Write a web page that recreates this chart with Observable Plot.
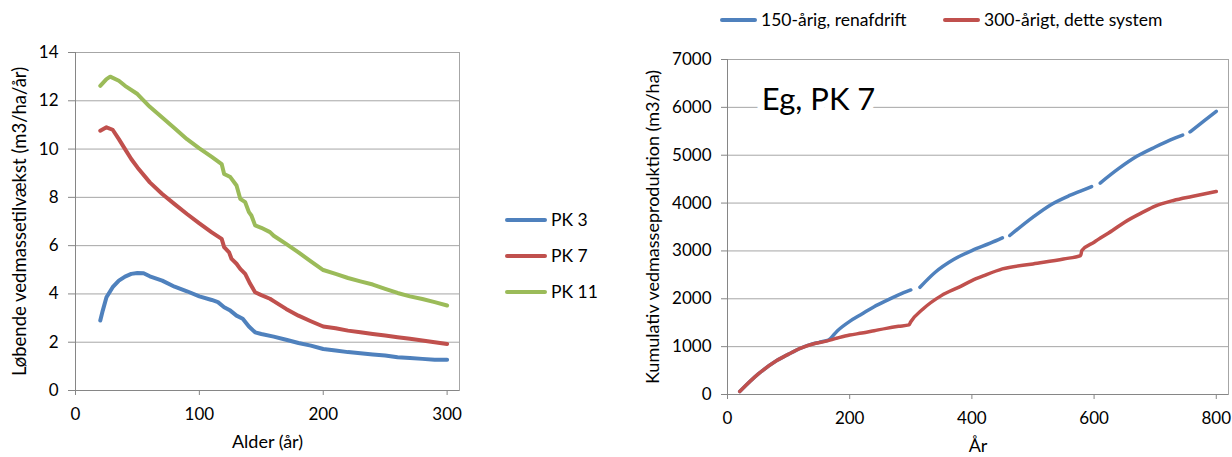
<!DOCTYPE html>
<html>
<head>
<meta charset="utf-8">
<script src="https://cdn.jsdelivr.net/npm/d3@7"></script>
<script src="https://cdn.jsdelivr.net/npm/@observablehq/plot@0.6"></script>
<style>
  html, body { margin: 0; padding: 0; background: #fff; }
  body { width: 1232px; height: 457px; position: relative; overflow: hidden; font-family: Lato, "Open Sans", sans-serif; color: #000; }
  .panel { position: absolute; top: 0; }
  .leg { position: absolute; font-size: 17.5px; white-space: nowrap; line-height: 1; }
  .leg .sw { position: absolute; height: 4px; border-radius: 2px; }
</style>
</head>
<body>
<div id="left" class="panel" style="left:0px"></div>
<div id="right" class="panel" style="left:620px"></div>
<div id="legends"></div>
<script>
// ---------- Left chart data: Løbende vedmassetilvækst ----------
const leftXTicks = [0, 100, 200, 300];
const leftYTicks = [0, 2, 4, 6, 8, 10, 12, 14];
const leftSeries = ["PK 3", "PK 7", "PK 11"];
const leftColors = ["#4F81BD", "#C0504D", "#9BBB59"];

const pk3Age = [20,22,25,30,35,40,45,50,55,60,70,80,90,100,110,115,120,125,130,135,140,145,150,160,170,180,190,200,210,220,230,240,250,260,270,280,290,300];
const pk3Val = [2.9,3.31,3.86,4.28,4.55,4.72,4.83,4.87,4.86,4.73,4.55,4.30,4.11,3.90,3.75,3.66,3.45,3.31,3.10,2.97,2.65,2.41,2.34,2.23,2.10,1.97,1.86,1.72,1.66,1.59,1.54,1.49,1.45,1.38,1.35,1.31,1.27,1.27];

const pk7Age = [20,25,30,35,40,45,50,60,70,80,90,100,110,118,120,124,126,130,133,137,141,145,150,157,160,170,180,190,200,210,220,230,240,250,260,270,280,290,300];
const pk7Val = [10.76,10.9,10.8,10.41,10.0,9.59,9.24,8.62,8.14,7.72,7.31,6.92,6.55,6.28,5.94,5.72,5.45,5.25,5.04,4.83,4.42,4.07,3.95,3.80,3.70,3.38,3.10,2.87,2.65,2.58,2.48,2.41,2.34,2.28,2.21,2.14,2.07,2.0,1.93];

const pk11Age = [20,25,28,35,40,50,60,70,80,90,100,110,118,120,125,130,133,137,140,142,145,150,157,160,170,180,190,200,210,220,230,240,250,260,270,280,290,300];
const pk11Val = [12.62,12.9,13.0,12.83,12.62,12.28,11.75,11.31,10.86,10.41,10.03,9.68,9.38,8.97,8.84,8.49,7.94,7.80,7.39,7.25,6.84,6.74,6.56,6.41,6.07,5.72,5.35,4.99,4.83,4.66,4.52,4.39,4.21,4.04,3.90,3.79,3.66,3.52];

// ---------- Right chart data: Kumulativ vedmasseproduktion ----------
const rightXTicks = [0, 200, 400, 600, 800];
const rightYTicks = [0, 1000, 2000, 3000, 4000, 5000, 6000, 7000];
const rightSeries = ["150-årig, renafdrift", "300-årigt, dette system"];
const rightColors = ["#4F81BD", "#C0504D"];

// null = gap in the line
const r150Year = [20,50,80,100,120,140,150,160,165,180,200,220,240,260,280,300,308,315,340,370,400,430,450,455,462,500,530,560,590,596,603,610,640,670,700,730,745,750,757,780,800];
const r150Val  = [63,425,705,844,970,1060,1090,1118,1135,1333,1528,1682,1835,1961,2080,2184,null,2240,2554,2820,3008,3161,3273,null,3322,3706,3971,4159,4313,4345,null,4418,4718,4976,5171,5346,5420,null,5486,5716,5918];

const r300Year = [20,50,80,100,120,140,160,180,200,220,240,260,280,297,300,320,350,380,400,420,450,500,550,578,580,600,630,650,680,700,730,760,800];
const r300Val  = [63,425,705,844,970,1054,1110,1180,1242,1284,1333,1382,1424,1455,1520,1787,2066,2250,2380,2484,2624,2729,2833,2903,3008,3182,3427,3601,3810,3936,4055,4139,4243];

const annotation = "Eg, PK 7";
const leftYLabel = "Løbende vedmassetilvækst (m3/ha/år)";
const leftXLabel = "Alder (år)";
const rightYLabel = "Kumulativ vedmasseproduktion (m3/ha)";
const rightXLabel = "År";

// ---------- build tables ----------
function rows(xs, ys, name) { return xs.map((x, i) => ({x, y: ys[i], s: name})); }
const leftData = [
  ...rows(pk3Age, pk3Val, leftSeries[0]),
  ...rows(pk7Age, pk7Val, leftSeries[1]),
  ...rows(pk11Age, pk11Val, leftSeries[2])
];
const rightData = [
  ...rows(r150Year, r150Val, rightSeries[0]),
  ...rows(r300Year, r300Val, rightSeries[1])
];

const FONT = "Lato, 'Open Sans', sans-serif";
const GRID = "#a6a6a6";
const AXIS = "#868686";

const left = Plot.plot({
  width: 470, height: 457,
  marginLeft: 75, marginRight: 11, marginTop: 52, marginBottom: 67,
  style: {fontFamily: FONT, fontSize: "17px", color: "#000", background: "transparent", overflow: "visible"},
  x: {domain: [0, 310]},
  y: {domain: [0, 14]},
  color: {domain: leftSeries, range: leftColors},
  marks: [
    Plot.gridY(leftYTicks, {stroke: GRID, strokeOpacity: 1}),
    Plot.frame({stroke: GRID}),
    Plot.ruleX([0], {stroke: AXIS}),
    Plot.ruleY([0], {stroke: AXIS}),
    Plot.axisY(leftYTicks, {tickSize: 7, tickPadding: 10, stroke: AXIS, fill: "#000", label: null, fontSize: 17}),
    Plot.axisX(leftXTicks, {tickSize: 5, tickPadding: 12, stroke: AXIS, fill: "#000", label: null, fontSize: 17}),
    Plot.line(leftData, {x: "x", y: "y", z: "s", stroke: "s", strokeWidth: 4, strokeLinejoin: "round", strokeLinecap: "round"}),
    Plot.text([leftYLabel], {frameAnchor: "left", textAnchor: "middle", rotate: -90, dx: -55, fontSize: 18.5, fill: "#000"}),
    Plot.text([leftXLabel], {frameAnchor: "bottom", dy: 57, fontSize: 18, fill: "#000"})
  ]
});
document.getElementById("left").appendChild(left);

const right = Plot.plot({
  width: 612, height: 457,
  marginLeft: 107, marginRight: 4, marginTop: 59, marginBottom: 63,
  style: {fontFamily: FONT, fontSize: "17px", color: "#000", background: "transparent", overflow: "visible"},
  x: {domain: [0, 820]},
  y: {domain: [0, 7000]},
  color: {domain: rightSeries, range: rightColors},
  marks: [
    Plot.gridY(rightYTicks, {stroke: GRID, strokeOpacity: 1}),
    Plot.frame({stroke: GRID}),
    Plot.ruleX([0], {stroke: AXIS}),
    Plot.ruleY([0], {stroke: AXIS}),
    Plot.axisY(rightYTicks, {tickSize: 6, tickPadding: 10, stroke: AXIS, fill: "#000", label: null, fontSize: 17, tickFormat: d => String(d)}),
    Plot.axisX(rightXTicks, {tickSize: 5, tickPadding: 12, stroke: AXIS, fill: "#000", label: null, fontSize: 17}),
    Plot.text([annotation], {x: 56, y: 6150, textAnchor: "start", fontSize: 31, fill: "#000", stroke: "white", strokeWidth: 14, paintOrder: "stroke"}),
    Plot.line(rightData, {x: "x", y: "y", z: "s", stroke: "s", strokeWidth: 3.5, curve: "monotone-x", strokeLinecap: "round"}),
    Plot.text([rightYLabel], {frameAnchor: "left", textAnchor: "middle", rotate: -90, dx: -74, fontSize: 18, fill: "#000"}),
    Plot.text([rightXLabel], {frameAnchor: "bottom", dy: 57, fontSize: 18, fill: "#000"})
  ]
});
document.getElementById("right").appendChild(right);

// ---------- legends ----------
const legendBox = document.getElementById("legends");
function addLegend(label, color, x, y, swLen) {
  const d = document.createElement("div");
  d.className = "leg";
  d.style.left = (x + swLen + 4) + "px";
  d.style.top = (y - 9) + "px";
  d.textContent = label;
  const sw = document.createElement("div");
  sw.className = "sw";
  sw.style.background = color;
  sw.style.width = swLen + "px";
  sw.style.left = -(swLen + 4) + "px";
  sw.style.top = "7px";
  d.appendChild(sw);
  legendBox.appendChild(d);
}
const leftLegY = [220, 256, 292];
leftSeries.forEach((s, i) => addLegend(s, leftColors[i], 505, leftLegY[i], 42));
const rightLegX = [720, 943];
rightSeries.forEach((s, i) => addLegend(s, rightColors[i], rightLegX[i], 20, 37));
</script>
</body>
</html>
